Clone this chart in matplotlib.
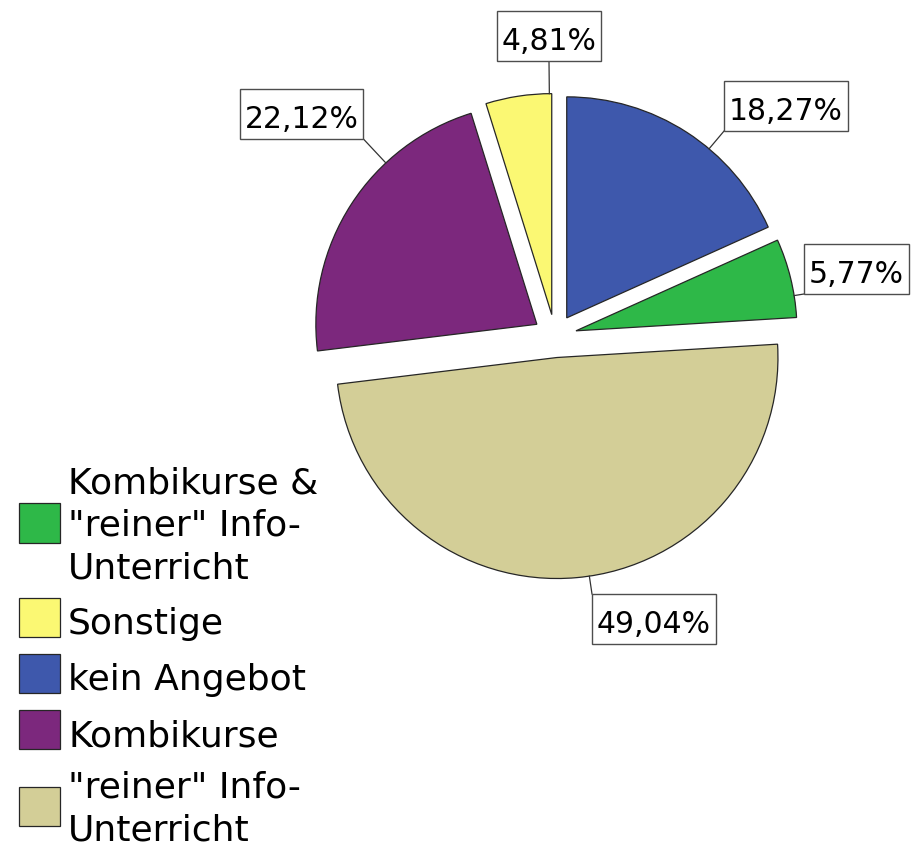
import numpy as np
import matplotlib
matplotlib.use('Agg')
import matplotlib.pyplot as plt
from matplotlib.patches import Rectangle
from matplotlib.legend_handler import HandlerPatch

# ---------------- data ----------------
categories = ['kein Angebot',
              'Kombikurse & "reiner" Info-Unterricht',
              '"reiner" Info-Unterricht',
              'Kombikurse',
              'Sonstige']
values = [18.27, 5.77, 49.04, 22.12, 4.81]
legend_labels = ['kein Angebot',
                 'Kombikurse &\n"reiner" Info-\nUnterricht',
                 '"reiner" Info-\nUnterricht',
                 'Kombikurse',
                 'Sonstige']
colors = ['#3E58AC', '#2EB848', '#D3CE97', '#7C287D', '#FBF873']
legend_order = [1, 4, 0, 3, 2]

# ---------------- layout ----------------
W, H = 913, 848
fig = plt.figure(figsize=(W / 100, H / 100), dpi=100)
ax = fig.add_axes([0, 0, 1, 1])

cx, cy = 555, H - 336
R = 221
EXP = 21.6

wedges, _ = ax.pie(values, colors=colors, startangle=90, counterclock=False,
                   radius=R, center=(cx, cy), explode=[EXP] * len(values),
                   wedgeprops=dict(edgecolor='#262626', linewidth=0.9))
ax.set_xlim(0, W)
ax.set_ylim(0, H)
ax.set_aspect('equal')
ax.axis('off')

# label box centres (pixels from top) and leader anchor on box (rel x, rel y from bottom)
label_pos = [(786, 106), (856.5, 269), (654, 619), (301.5, 114), (549, 36)]
anchors = [(0, 0), (0, 0), (0, 1), (1, 0), (0.5, 0)]

fig.canvas.draw()
renderer = fig.canvas.get_renderer()
for i, w in enumerate(wedges):
    bx, by_top = label_pos[i]
    txt = f"{values[i]:.2f}%".replace('.', ',')
    t = ax.text(bx, H - (by_top + 14), txt, ha='center', va='baseline',
                fontsize=21.5, color='black', zorder=6)
    bb = t.get_window_extent(renderer)
    bw = bb.width + 10
    bh = 50
    by = H - by_top
    rect = Rectangle((bx - bw / 2, by - bh / 2), bw, bh, facecolor='white',
                     edgecolor='#4d4d4d', linewidth=1.0, zorder=5)
    ax.add_patch(rect)
    axp = bx - bw / 2 + anchors[i][0] * bw
    ayp = by - bh / 2 + anchors[i][1] * bh
    wc = np.array(w.center)
    d = np.array([axp, ayp]) - wc
    d = d / np.hypot(*d)
    ex, ey = wc + w.r * d
    ax.plot([axp, ex], [ayp, ey], color='#333333', lw=0.9, zorder=4)


def square_patch(legend, orig_handle, xdescent, ydescent, width, height, fontsize):
    shift = 0.12 * fontsize
    return Rectangle((-xdescent, -ydescent + shift), width, height)


handles = [wedges[i] for i in legend_order]
labels = [legend_labels[i] for i in legend_order]
leg = ax.legend(handles, labels, loc='upper left',
                bbox_to_anchor=(19 / W, 1 - 466 / H), bbox_transform=fig.transFigure,
                frameon=False, fontsize=26, borderpad=0, borderaxespad=0,
                handlelength=1.14, handleheight=1.29, handletextpad=0.22,
                labelspacing=0.467,
                handler_map={w: HandlerPatch(patch_func=square_patch) for w in wedges})
for t in leg.get_texts():
    t.set_linespacing(1.33)

fig.savefig('out.png', dpi=100)
